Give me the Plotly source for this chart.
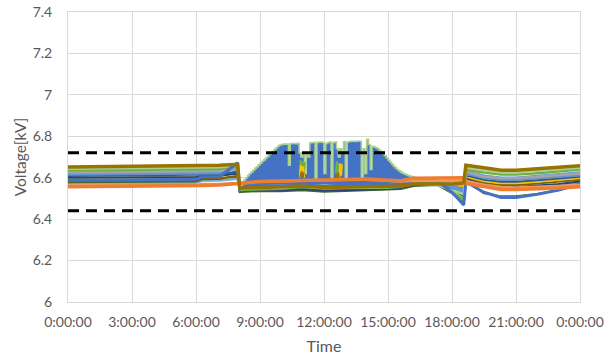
import numpy as np
import plotly.graph_objects as go

# ---------------- data ----------------
# key times (hours) for the banded series
KT = [0, 3, 6.0, 6.3, 7.1, 7.95, 8.05, 8.3, 9, 10, 11, 12, 13, 14, 15, 15.6,
      16.2, 17.3, 18.0, 18.55, 18.65, 19.5, 20.3, 21, 22, 23, 24]

S_BLUE = [6.588, 6.59, 6.592, 6.605, 6.605, 6.672, 6.545, 6.56, 6.56, 6.56, 6.565, 6.56, 6.565, 6.565,
          6.565, 6.57, 6.585, 6.585, 6.53, 6.468, 6.58, 6.53, 6.505, 6.505, 6.52, 6.54, 6.57]
S_GRAY = [6.625, 6.628, 6.63, 6.63, 6.632, 6.64, 6.55, 6.55, 6.552, 6.555, 6.56, 6.555, 6.56, 6.56,
          6.56, 6.565, 6.575, 6.578, 6.57, 6.565, 6.628, 6.605, 6.598, 6.598, 6.605, 6.612, 6.62]
S_GOLD = [6.598, 6.6, 6.602, 6.608, 6.61, 6.62, 6.545, 6.548, 6.55, 6.552, 6.555, 6.552, 6.555, 6.555,
          6.558, 6.56, 6.57, 6.572, 6.565, 6.56, 6.605, 6.585, 6.575, 6.575, 6.582, 6.59, 6.6]
S_LBLUE = [6.62, 6.622, 6.625, 6.625, 6.628, 6.65, 6.55, 6.553, 6.555, 6.557, 6.565, 6.558, 6.562, 6.562,
           6.563, 6.567, 6.578, 6.58, 6.555, 6.53, 6.632, 6.61, 6.6, 6.6, 6.608, 6.615, 6.625]
S_GREEN = [6.635, 6.637, 6.64, 6.64, 6.642, 6.655, 6.54, 6.542, 6.545, 6.547, 6.555, 6.548, 6.55, 6.55,
           6.552, 6.556, 6.57, 6.575, 6.53, 6.495, 6.64, 6.625, 6.615, 6.615, 6.622, 6.63, 6.64]
S_DBLUE = [6.6, 6.602, 6.604, 6.608, 6.61, 6.62, 6.535, 6.54, 6.54, 6.54, 6.545, 6.538, 6.54, 6.542,
           6.545, 6.55, 6.565, 6.57, 6.55, 6.535, 6.595, 6.565, 6.555, 6.555, 6.562, 6.57, 6.582]
S_SBLUE = [6.608, 6.61, 6.612, 6.614, 6.616, 6.63, 6.54, 6.543, 6.545, 6.548, 6.552, 6.546, 6.55, 6.55,
           6.552, 6.556, 6.58, 6.582, 6.545, 6.51, 6.612, 6.59, 6.58, 6.58, 6.588, 6.595, 6.605]
S_DGREEN = [6.578, 6.58, 6.582, 6.592, 6.594, 6.61, 6.53, 6.532, 6.535, 6.535, 6.54, 6.532, 6.535, 6.537,
            6.54, 6.545, 6.56, 6.565, 6.525, 6.48, 6.585, 6.525, 6.51, 6.51, 6.522, 6.54, 6.565]
S_PERI = [6.615, 6.617, 6.62, 6.62, 6.622, 6.645, 6.548, 6.55, 6.552, 6.555, 6.56, 6.553, 6.557, 6.558,
          6.56, 6.563, 6.578, 6.58, 6.56, 6.545, 6.62, 6.598, 6.59, 6.59, 6.597, 6.605, 6.612]
S_SKY = [6.572, 6.574, 6.576, 6.585, 6.587, 6.595, 6.545, 6.547, 6.55, 6.55, 6.556, 6.55, 6.553, 6.553,
         6.555, 6.558, 6.57, 6.575, 6.55, 6.525, 6.59, 6.56, 6.55, 6.55, 6.556, 6.565, 6.578]
S_OLIVE = [6.583, 6.585, 6.587, 6.597, 6.599, 6.605, 6.538, 6.54, 6.542, 6.543, 6.548, 6.54, 6.545, 6.545,
           6.548, 6.552, 6.568, 6.57, 6.56, 6.55, 6.6, 6.575, 6.565, 6.565, 6.572, 6.58, 6.59]
S_LGREEN = [6.643, 6.645, 6.647, 6.648, 6.65, 6.66, 6.545, 6.547, 6.55, 6.552, 6.558, 6.55, 6.553, 6.553,
            6.555, 6.56, 6.572, 6.565, 6.54, 6.52, 6.648, 6.635, 6.625, 6.625, 6.632, 6.64, 6.648]
S_LORANGE = [6.562, 6.563, 6.565, 6.57, 6.57, 6.575, 6.575, 6.578, 6.58, 6.583, 6.585, 6.587, 6.59, 6.59,
             6.585, 6.582, 6.585, 6.585, 6.585, 6.585, 6.585, 6.565, 6.555, 6.553, 6.555, 6.56, 6.565]
S_ORANGE = [6.556, 6.558, 6.56, 6.563, 6.565, 6.57, 6.57, 6.575, 6.582, 6.585, 6.588, 6.59, 6.592, 6.594,
            6.588, 6.585, 6.598, 6.6, 6.6, 6.6, 6.572, 6.555, 6.543, 6.543, 6.545, 6.55, 6.556]
S_TOP = [6.652, 6.655, 6.657, 6.66, 6.66, 6.665, 6.55, 6.55, 6.552, 6.555, 6.56, 6.553, 6.556, 6.556,
         6.558, 6.56, 6.57, 6.57, 6.57, 6.575, 6.66, 6.648, 6.636, 6.636, 6.642, 6.65, 6.658]

# midday fluctuation of the blue feeder: 5-minute samples 8:10 ... 16:15 (upper envelope)
FLUCT_START_MIN = 8 * 60 + 10
FLUCT_END_MIN = 16 * 60 + 15
FLUCT_HI = [
    6.575, 6.59, 6.60, 6.61, 6.62, 6.628, 6.636, 6.645, 6.653, 6.662,                   # 8:10-8:55
    6.67, 6.678, 6.686, 6.695, 6.703, 6.712, 6.72, 6.728, 6.737, 6.745, 6.753, 6.758,  # 9
    6.76, 6.762, 6.762, 6.763, 6.66, 6.764, 6.765, 6.765, 6.764, 6.766, 6.72, 6.70,    # 10
    6.72, 6.62, 6.71, 6.70, 6.768, 6.77, 6.77, 6.59, 6.77, 6.772, 6.772, 6.77,         # 11
    6.62, 6.765, 6.77, 6.772, 6.60, 6.77, 6.772, 6.74, 6.70, 6.74, 6.72, 6.773,        # 12
    6.60, 6.772, 6.775, 6.776, 6.776, 6.775, 6.776, 6.777, 6.776, 6.60, 6.74, 6.62,    # 13
    6.785, 6.76, 6.64, 6.752, 6.748, 6.745, 6.74, 6.732, 6.725, 6.716, 6.706, 6.696,   # 14
    6.685, 6.675, 6.665, 6.655, 6.647, 6.64, 6.633, 6.627, 6.622, 6.618, 6.614, 6.611, # 15
    6.608, 6.606, 6.604, 6.602,                                                          # 16:00-16:15
]
FLUCT_LO_T = [8.1667, 9, 12, 15, 16.25]
FLUCT_LO = [6.562, 6.565, 6.568, 6.57, 6.585]

# short bursts of other feeders visible inside the fluctuation zone
BITS_GREEN_T = [10.85, 10.9, 10.95, 11.0, 11.05, 11.1, None, 12.55, 12.6, 12.65, 12.7]
BITS_GREEN = [6.62, 6.685, 6.63, 6.68, 6.62, 6.675, None, 6.62, 6.68, 6.62, 6.67]
BITS_GOLD_T = [10.87, 10.92, 10.97, 11.02, 11.07, None, 12.72, 12.76, 12.8, 12.84]
BITS_GOLD = [6.60, 6.66, 6.61, 6.655, 6.60, None, 6.60, 6.67, 6.61, 6.665]
BITS_BROWN_T = [10.9, 10.95, 11.0, 11.05, None, 12.6, 12.65, 12.7]
BITS_BROWN = [6.60, 6.63, 6.60, 6.625, None, 6.60, 6.625, 6.60]

LIMITS = [6.72, 6.44]
X_TICKS = [0, 3, 6, 9, 12, 15, 18, 21, 24]
X_TICK_TEXT = ["0:00:00", "3:00:00", "6:00:00", "9:00:00", "12:00:00",
               "15:00:00", "18:00:00", "21:00:00", "0:00:00"]
Y_TICKS = [6, 6.2, 6.4, 6.6, 6.8, 7, 7.2, 7.4]
Y_TICK_TEXT = ["6", "6.2", "6.4", "6.6", "6.8", "7", "7.2", "7.4"]

# ---------------- figure ----------------
fig = go.Figure()

fluct_t = np.arange(FLUCT_START_MIN, FLUCT_END_MIN + 1, 5) / 60.0

fig.add_trace(go.Scatter(x=FLUCT_LO_T, y=FLUCT_LO, mode="lines",
                         line=dict(color="#4472C4", width=0), showlegend=False, hoverinfo="skip"))
fig.add_trace(go.Scatter(x=fluct_t, y=FLUCT_HI, mode="lines", fill="tonexty",
                         fillcolor="#4472C4", line=dict(color="#A9D18E", width=1.6, shape="hv"),
                         showlegend=False, hoverinfo="skip"))

band = [
    (S_SKY, "#7CAFDD", 2.5),
    (S_DGREEN, "#43682B", 2.0),
    (S_OLIVE, "#806000", 2.0),
    (S_GOLD, "#FFC000", 2.5),
    (S_DBLUE, "#264478", 2.0),
    (S_SBLUE, "#255E91", 2.0),
    (S_PERI, "#698ED0", 2.5),
    (S_LBLUE, "#5B9BD5", 2.5),
    (S_GRAY, "#A5A5A5", 2.5),
    (S_GREEN, "#70AD47", 2.5),
    (S_LGREEN, "#A9D18E", 2.5),
    (S_BLUE, "#4472C4", 3.0),
    (S_LORANGE, "#F1975A", 2.5),
    (S_ORANGE, "#ED7D31", 3.5),
    (S_TOP, "#997300", 3.5),
]
for vals, col, w in band:
    fig.add_trace(go.Scatter(x=KT, y=vals, mode="lines", line=dict(color=col, width=w),
                             showlegend=False, hoverinfo="skip"))

for tt, vv, col in [(BITS_GREEN_T, BITS_GREEN, "#70AD47"),
                    (BITS_GOLD_T, BITS_GOLD, "#FFC000"),
                    (BITS_BROWN_T, BITS_BROWN, "#997300")]:
    fig.add_trace(go.Scatter(x=tt, y=vv, mode="lines", line=dict(color=col, width=2),
                             connectgaps=False, showlegend=False, hoverinfo="skip"))

for lim in LIMITS:
    fig.add_trace(go.Scatter(x=[0, 24], y=[lim, lim], mode="lines",
                             line=dict(color="black", width=3, dash="11px,7px"),
                             showlegend=False, hoverinfo="skip"))

FONT = "Lato, 'Liberation Sans', sans-serif"
fig.update_layout(
    width=612, height=361,
    margin=dict(l=68, r=32, t=12, b=59),
    paper_bgcolor="white", plot_bgcolor="white",
    font=dict(family=FONT, color="#595959", size=14),
    xaxis=dict(range=[0, 24], tickvals=X_TICKS, ticktext=X_TICK_TEXT, automargin=False,
               showgrid=True, gridcolor="#D9D9D9", gridwidth=1, zeroline=False,
               showline=True, linecolor="#D9D9D9", mirror=True, ticklabeloverflow="allow",
               ticks="", ticklabelstandoff=7, tickfont=dict(size=14),
               title=dict(text="Time", font=dict(size=16), standoff=12)),
    yaxis=dict(range=[6, 7.4], tickvals=Y_TICKS, ticktext=Y_TICK_TEXT, automargin=False,
               showgrid=True, gridcolor="#D9D9D9", gridwidth=1, zeroline=False,
               showline=True, linecolor="#D9D9D9", mirror=True, ticklabeloverflow="allow",
               ticks="", ticklabelstandoff=12, tickfont=dict(size=14),
               title=dict(text="Voltage[kV]", font=dict(size=15.5), standoff=2)),
)

# remove the default 8px page margin so the 612x361 figure fills the window exactly
fig.write_html("out.html", config={"displayModeBar": False},
               post_script="document.body.style.margin='0';")
